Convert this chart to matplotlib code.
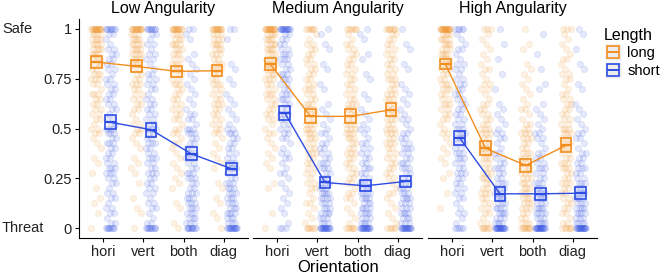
import numpy as np
import matplotlib.pyplot as plt
from matplotlib.lines import Line2D
from matplotlib.legend_handler import HandlerTuple

plt.rcParams['font.family'] = ['Liberation Sans', 'DejaVu Sans']

# 数据
panels = ['Low Angularity', 'Medium Angularity', 'High Angularity']
orientations = ['hori', 'vert', 'both', 'diag']
lengths = ['long', 'short']
levels = np.round(np.arange(0, 1.0001, 0.025), 3)

# 每组均值和标准误
mean_long = [[0.834, 0.812, 0.787, 0.790],
             [0.824, 0.561, 0.561, 0.594],
             [0.824, 0.400, 0.315, 0.415]]
mean_short = [[0.531, 0.494, 0.373, 0.298],
              [0.578, 0.229, 0.212, 0.234],
              [0.452, 0.172, 0.172, 0.175]]
se_long = [[0.030, 0.030, 0.028, 0.028],
           [0.028, 0.035, 0.035, 0.033],
           [0.026, 0.035, 0.033, 0.035]]
se_short = [[0.035, 0.035, 0.032, 0.030],
            [0.035, 0.028, 0.027, 0.028],
            [0.035, 0.035, 0.030, 0.030]]

# 原始点的计数, 按 y = 0, 0.025, ..., 1 排列
counts_long = [
    [[1, 0,0, 1,0, 1,1, 0,1, 0,0, 1,0, 1,1, 0,1, 1,1, 2,2, 1,2, 2,2, 2,2, 3,1, 2,3, 3,2, 3,3, 4,4, 4,4, 4, 15],
     [1, 0,0, 1,1, 0,1, 0,0, 1,0, 1,1, 1,1, 0,1, 1,1, 2,2, 2,1, 1,2, 2,2, 2,2, 3,2, 2,2, 3,3, 4,4, 4,4, 3, 14],
     [1, 1,0, 0,1, 1,0, 0,1, 1,1, 1,1, 1,1, 1,1, 2,1, 2,2, 1,2, 2,2, 2,2, 2,2, 3,2, 2,3, 3,2, 3,3, 4,3, 3, 12],
     [1, 0,1, 1,0, 1,1, 0,1, 1,0, 0,1, 1,1, 1,1, 1,1, 2,2, 2,2, 2,2, 3,2, 2,2, 3,2, 2,3, 3,2, 3,3, 4,3, 3, 12]],
    [[1, 0,0, 1,0, 0,0, 0,1, 1,0, 0,1, 1,1, 1,1, 1,1, 2,1, 1,2, 2,2, 2,2, 3,2, 2,3, 3,3, 4,3, 3,4, 4,4, 4, 16],
     [6, 1,1, 1,1, 2,1, 1,2, 2,1, 2,2, 2,2, 3,2, 2,3, 3,3, 3,2, 2,3, 3,2, 2,3, 2,2, 2,2, 2,2, 2,2, 2,1, 1, 6],
     [6, 1,1, 1,1, 1,2, 2,1, 2,2, 2,2, 2,2, 3,2, 2,3, 3,3, 3,2, 2,3, 3,2, 2,2, 2,2, 2,2, 2,2, 2,2, 2,1, 1, 6],
     [5, 1,1, 1,1, 1,1, 2,1, 1,2, 2,2, 2,2, 2,2, 3,2, 3,3, 2,3, 3,2, 2,3, 3,2, 2,3, 2,2, 2,2, 2,2, 2,2, 2, 7]],
    [[0, 0,0, 0,1, 0,0, 1,0, 0,1, 1,0, 1,1, 1,1, 1,1, 2,1, 1,2, 2,2, 3,2, 2,3, 3,2, 2,3, 3,3, 4,3, 4,4, 4, 18],
     [6, 2,1, 2,2, 2,2, 3,2, 2,3, 3,2, 2,3, 3,3, 3,2, 3,3, 2,2, 2,2, 2,1, 1,2, 2,1, 1,2, 1,1, 1,1, 1,1, 1, 3],
     [8, 3,2, 2,3, 3,3, 3,3, 3,3, 3,3, 2,3, 3,2, 2,3, 3,2, 2,1, 1,2, 1,1, 1,1, 1,1, 1,1, 1,0, 0,1, 1,0, 0, 1],
     [6, 2,1, 2,2, 2,2, 2,2, 3,2, 2,3, 3,2, 2,3, 3,2, 3,3, 2,2, 2,2, 2,2, 2,1, 1,2, 2,1, 1,2, 1,1, 1,1, 1, 3]],
]
counts_short = [
    [[8, 2,1, 2,2, 1,2, 2,1, 2,2, 3,3, 2,2, 2,2, 3,2, 3,3, 2,2, 1,2, 2,2, 2,2, 2,2, 1,2, 2,2, 2,2, 1,1, 2, 8],
     [10, 2,1, 1,2, 2,1, 2,2, 2,2, 3,2, 2,3, 2,2, 3,2, 2,3, 2,2, 2,2, 2,2, 1,2, 2,2, 2,1, 1,2, 2,1, 2,1, 2, 8],
     [10, 3,3, 3,3, 3,3, 3,2, 2,3, 3,2, 2,3, 2,2, 2,2, 3,3, 1,2, 2,1, 1,1, 1,1, 1,1, 1,1, 1,1, 1,0, 0,1, 1, 2],
     [14, 3,3, 4,3, 3,3, 3,3, 3,2, 2,3, 3,2, 2,2, 2,2, 3,2, 1,1, 1,1, 1,1, 1,0, 1,1, 0,1, 1,0, 0,0, 0,1, 0, 2]],
    [[3, 1,0, 1,1, 1,1, 1,1, 1,1, 2,1, 1,2, 2,1, 1,2, 2,2, 2,2, 3,2, 2,3, 3,2, 2,3, 3,2, 2,3, 3,2, 2,2, 2, 14],
     [16, 3,3, 4,3, 3,4, 4,3, 3,2, 2,3, 3,2, 2,2, 2,1, 2,1, 1,1, 1,1, 1,0, 0,1, 1,0, 0,1, 1,0, 0,1, 1,0, 1, 1],
     [16, 4,3, 4,4, 3,4, 4,3, 3,2, 2,3, 2,2, 2,2, 2,1, 1,2, 1,1, 1,1, 0,1, 1,0, 0,1, 1,0, 0,1, 1,0, 0,1, 1, 1],
     [16, 3,3, 4,3, 3,4, 3,3, 3,2, 2,3, 3,2, 2,3, 2,2, 2,1, 1,2, 1,1, 1,1, 1,1, 1,0, 0,1, 1,0, 0,1, 1,0, 0, 1]],
    [[5, 1,1, 2,1, 1,2, 2,2, 2,2, 3,2, 2,3, 3,2, 2,3, 3,3, 2,2, 2,2, 2,2, 2,2, 2,2, 1,2, 2,1, 1,2, 1,1, 1, 5],
     [18, 4,3, 4,4, 3,4, 3,3, 3,2, 2,3, 2,2, 2,1, 1,2, 2,1, 1,1, 1,1, 1,0, 0,1, 0,0, 1,0, 0,1, 0,0, 1,0, 0, 1],
     [18, 4,3, 4,4, 3,4, 3,3, 3,2, 2,3, 2,2, 2,1, 1,2, 2,1, 1,1, 1,1, 1,0, 0,1, 1,0, 0,1, 0,0, 1,0, 0,0, 1, 0],
     [18, 4,3, 4,4, 3,4, 3,3, 3,2, 2,3, 2,2, 2,1, 1,2, 2,1, 1,1, 1,1, 1,0, 0,1, 1,0, 0,1, 1,0, 0,1, 0,0, 1, 1]],
]

colors = {'long': '#F28E1E', 'short': '#2C4CE4'}
dodge = {'long': -0.17, 'short': 0.19}

fig = plt.figure(figsize=(6.6, 2.78), dpi=100)
W, H = 660, 278
lefts = [79, 253, 428]
for i, name in enumerate(panels):
    ax = fig.add_axes([lefts[i] / W, 1 - 238 / H, 169 / W, 219 / H])
    x = np.arange(1, 5)
    for ln, counts, means, ses in [('long', counts_long[i], mean_long[i], se_long[i]),
                                    ('short', counts_short[i], mean_short[i], se_short[i])]:
        c = colors[ln]
        # 抖动散点
        for j in range(4):
            ys = np.repeat(levels, counts[j])
            k = np.arange(len(ys))
            off = ((k * 0.618034 + 0.3 * j) % 1 - 0.5) * 2 * 0.13
            ax.scatter(x[j] + dodge[ln] + off, ys, s=20, facecolor=c, edgecolor=c,
                       alpha=0.12, linewidths=0.6, zorder=1)
        xs = x + dodge[ln]
        m = np.array(means)
        s = np.array(ses)
        ax.plot(xs, m, color=c, lw=1.0, zorder=3)
        ax.bar(xs, 2 * s, bottom=m - s, width=0.27, facecolor='none',
               edgecolor=c, linewidth=1.2, zorder=4)
        ax.hlines(m, xs - 0.135, xs + 0.135, color=c, lw=1.6, zorder=4)

    ax.set_xlim(0.4, 4.6)
    ax.set_ylim(-0.05, 1.05)
    ax.set_xticks(x)
    ax.set_xticklabels(orientations, fontsize=10.5, color='#222222')
    ax.set_title(name, fontsize=11.5, pad=4)
    for sp in ['top', 'right']:
        ax.spines[sp].set_visible(False)
    ax.tick_params(axis='x', length=3, width=0.8, pad=2)
    if i == 0:
        ax.set_yticks([0, 0.25, 0.5, 0.75, 1])
        ax.set_yticklabels(['0', '0.25', '0.5', '0.75', '1'], fontsize=10.5, color='#222222')
        ax.tick_params(axis='y', length=3, width=0.8, pad=2)
        ax.annotate('Safe', xy=(2 / W, 1), xycoords=('figure fraction', 'data'),
                    fontsize=10.5, va='center', ha='left', color='#222222')
        ax.annotate('Threat', xy=(2 / W, 0), xycoords=('figure fraction', 'data'),
                    fontsize=10.5, va='center', ha='left', color='#222222')
    else:
        ax.spines['left'].set_visible(False)
        ax.set_yticks([])

fig.text(338 / W, 1 - 268 / H, 'Orientation', fontsize=12, ha='center', va='center')

# 图例
handles = []
for ln in lengths:
    bg = Line2D([], [], marker='s', ms=12, mfc='#EDEDED', mec='none', ls='none')
    box = Line2D([], [], marker='s', ms=8, mfc='none', mec=colors[ln], mew=1.2, ls='none')
    mid = Line2D([], [], marker='_', ms=8, mec=colors[ln], mew=1.4, ls='none')
    handles.append((bg, box, mid))
leg = fig.legend(handles, lengths, handler_map={tuple: HandlerTuple(ndivide=1)},
                 title='Length', loc='upper left', bbox_to_anchor=(598 / W, 1 - 22 / H),
                 frameon=False, fontsize=10.5, title_fontsize=11.5, handlelength=1.2,
                 handletextpad=0.4, labelspacing=0.25, borderaxespad=0)
leg._legend_box.align = 'left'

fig.savefig('out.png', dpi=100)
